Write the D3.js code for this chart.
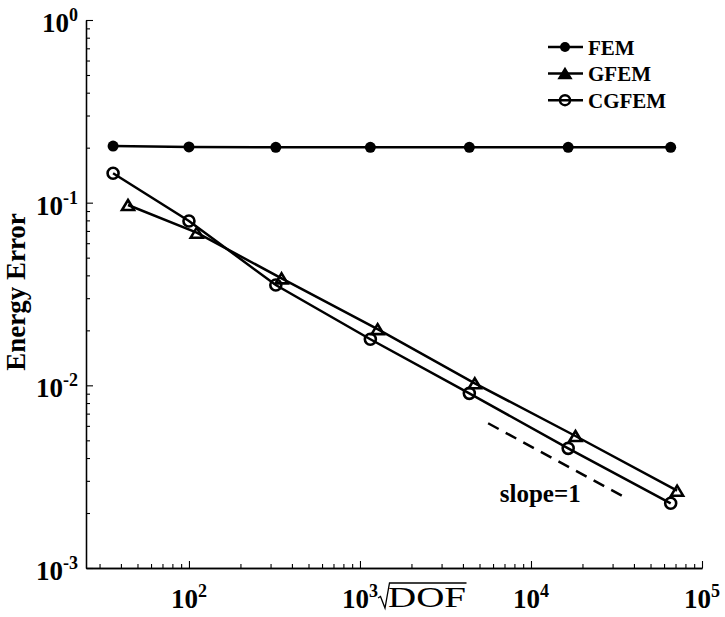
<!DOCTYPE html>
<html>
<head>
<meta charset="utf-8">
<script src="https://cdn.jsdelivr.net/npm/d3@7"></script>
<style>
  body { margin: 0; background: #fff; }
  svg { display: block; font-family: "Liberation Serif", "Times New Roman", serif; }
</style>
</head>
<body>
<svg width="725" height="617"></svg>
<script>
// sqrt(DOF) values
let dofFEM = [36, 100, 322, 1150, 4360, 16500, 65600];
let dofGFEM = [44, 111, 348, 1268, 4694, 18200, 71500];

// energy errors
let errFEM = [0.204, 0.202, 0.201, 0.201, 0.201, 0.201, 0.201];
let errGFEM = [0.0971, 0.0685, 0.0385, 0.0203, 0.01026, 0.00528, 0.00265];
let errCGFEM = [0.1448, 0.0794, 0.0354, 0.01787, 0.00904, 0.00452, 0.00226];

// reference slope line
let slopeX = [5615, 36150];
let slopeY = [0.0062, 0.00241];
let slopeLabel = {x: 6570, y: 0.0023, text: 'slope=1'};

let seriesNames = ['FEM', 'GFEM', 'CGFEM'];
let xTickExp = [2, 3, 4, 5];
let yTickExp = [-3, -2, -1, 0];

let svg = d3.select('svg');
let margin = {left: 86, top: 20, right: 23, bottom: 49};
let width = +svg.attr('width') - margin.left - margin.right;
let height = +svg.attr('height') - margin.top - margin.bottom;

let xScale = d3.scaleLog().domain([25, 1e5]).range([0, width]);
let yScale = d3.scaleLog().domain([1e-3, 1]).range([height, 0]);

let g = svg.append('g')
  .attr('transform', 'translate(' + margin.left + ',' + margin.top + ')');

// minor ticks
let xMinor = [];
for (let k = 1; k <= 4; k++) {
  for (let m = 2; m <= 9; m++) {
    let v = m * Math.pow(10, k);
    if (v >= 25 && v <= 1e5) xMinor.push(v);
  }
}
let yMinor = [];
for (let k = -3; k <= -1; k++) {
  for (let m = 2; m <= 9; m++) yMinor.push(m * Math.pow(10, k));
}

function styleAxis(sel) {
  sel.selectAll('path').attr('stroke', '#000').attr('stroke-width', 1.3);
  sel.selectAll('line').attr('stroke', '#000').attr('stroke-width', 1.1);
  sel.selectAll('text').remove();
}

g.append('g')
  .attr('transform', 'translate(0,' + height + ')')
  .call(d3.axisBottom(xScale).tickValues(xMinor).tickSize(-4).tickSizeOuter(0))
  .call(styleAxis);
g.append('g')
  .attr('transform', 'translate(0,' + height + ')')
  .call(d3.axisBottom(xScale).tickValues(xTickExp.map(e => Math.pow(10, e))).tickSize(-7).tickSizeOuter(0))
  .call(styleAxis);
g.append('g')
  .call(d3.axisLeft(yScale).tickValues(yMinor).tickSize(-4).tickSizeOuter(0))
  .call(styleAxis);
g.append('g')
  .call(d3.axisLeft(yScale).tickValues(yTickExp.map(e => Math.pow(10, e))).tickSize(-7).tickSizeOuter(0))
  .call(styleAxis);

// tick labels with superscripts
xTickExp.forEach(e => {
  let t = g.append('text')
    .attr('x', xScale(Math.pow(10, e)))
    .attr('y', height + 40)
    .attr('text-anchor', 'middle')
    .attr('font-weight', 'bold')
    .attr('font-size', 27);
  t.append('tspan').text('10');
  t.append('tspan').attr('font-size', 18).attr('dy', -11).text(e);
});
yTickExp.forEach(e => {
  let t = g.append('text')
    .attr('x', -8)
    .attr('y', yScale(Math.pow(10, e)) + 12)
    .attr('text-anchor', 'end')
    .attr('font-weight', 'bold')
    .attr('font-size', 27);
  t.append('tspan').text('10');
  t.append('tspan').attr('font-size', 18).attr('dy', -11).text(e);
});

// axis titles
svg.append('text')
  .attr('transform', 'translate(25,292) rotate(-90)')
  .attr('text-anchor', 'middle')
  .attr('font-weight', 'bold')
  .attr('font-size', 27)
  .text('Energy Error');

let rx = 378, ry = 607;
svg.append('path')
  .attr('d', 'M' + rx + ',' + (ry - 9) + 'l2.5,-1.5l4.5,11.5l4.5,-25h77')
  .attr('fill', 'none')
  .attr('stroke', '#000')
  .attr('stroke-width', 1.3);
svg.append('text')
  .attr('x', rx + 10)
  .attr('y', ry)
  .attr('font-size', 30)
  .attr('textLength', 78)
  .attr('lengthAdjust', 'spacingAndGlyphs')
  .text('DOF');

// series
let lineGen = d3.line().x(d => xScale(d[0])).y(d => yScale(d[1]));
let femPts = dofFEM.map((d, i) => [d, errFEM[i]]);
let gfemPts = dofGFEM.map((d, i) => [d, errGFEM[i]]);
let cgfemPts = dofFEM.map((d, i) => [d, errCGFEM[i]]);

[femPts, gfemPts, cgfemPts].forEach(pts => {
  g.append('path')
    .datum(pts)
    .attr('d', lineGen)
    .attr('fill', 'none')
    .attr('stroke', '#000')
    .attr('stroke-width', 2.5);
});

function triPath(w, h) {
  return 'M0,' + (-h / 2) + 'L' + (w / 2) + ',' + (h / 2) + 'L' + (-w / 2) + ',' + (h / 2) + 'Z';
}

g.selectAll('.fem')
  .data(femPts)
  .enter().append('circle')
  .attr('class', 'fem')
  .attr('cx', d => xScale(d[0]))
  .attr('cy', d => yScale(d[1]))
  .attr('r', 5.5)
  .attr('fill', '#000');

g.selectAll('.gfem')
  .data(gfemPts)
  .enter().append('path')
  .attr('class', 'gfem')
  .attr('transform', d => 'translate(' + xScale(d[0]) + ',' + yScale(d[1]) + ')')
  .attr('d', triPath(12, 10))
  .attr('fill', 'none')
  .attr('stroke', '#000')
  .attr('stroke-width', 2.6)
  .attr('stroke-linejoin', 'miter');

g.selectAll('.cgfem')
  .data(cgfemPts)
  .enter().append('circle')
  .attr('class', 'cgfem')
  .attr('cx', d => xScale(d[0]))
  .attr('cy', d => yScale(d[1]))
  .attr('r', 5.5)
  .attr('fill', 'none')
  .attr('stroke', '#000')
  .attr('stroke-width', 2.6);

// slope reference
g.append('path')
  .datum(slopeX.map((d, i) => [d, slopeY[i]]))
  .attr('d', lineGen)
  .attr('fill', 'none')
  .attr('stroke', '#000')
  .attr('stroke-width', 2.5)
  .attr('stroke-dasharray', '12,8');

g.append('text')
  .attr('x', xScale(slopeLabel.x))
  .attr('y', yScale(slopeLabel.y))
  .attr('font-weight', 'bold')
  .attr('font-size', 25)
  .text(slopeLabel.text);

// legend
let legend = svg.append('g').attr('transform', 'translate(548,47)');
seriesNames.forEach((name, i) => {
  let row = legend.append('g').attr('transform', 'translate(0,' + (i * 26.6) + ')');
  row.append('line')
    .attr('x1', 0).attr('x2', 35)
    .attr('stroke', '#000').attr('stroke-width', 2.5);
  if (i === 0) {
    row.append('circle').attr('cx', 17).attr('r', 5).attr('fill', '#000');
  } else if (i === 1) {
    row.append('path').attr('transform', 'translate(17,0)').attr('d', triPath(11, 9))
      .attr('fill', '#000').attr('stroke', '#000').attr('stroke-width', 2.4);
  } else {
    row.append('circle').attr('cx', 17).attr('r', 5)
      .attr('fill', 'none').attr('stroke', '#000').attr('stroke-width', 2.5);
  }
  row.append('text')
    .attr('x', 40)
    .attr('y', 7.5)
    .attr('font-weight', 'bold')
    .attr('font-size', 21)
    .text(name);
});
</script>
</body>
</html>
